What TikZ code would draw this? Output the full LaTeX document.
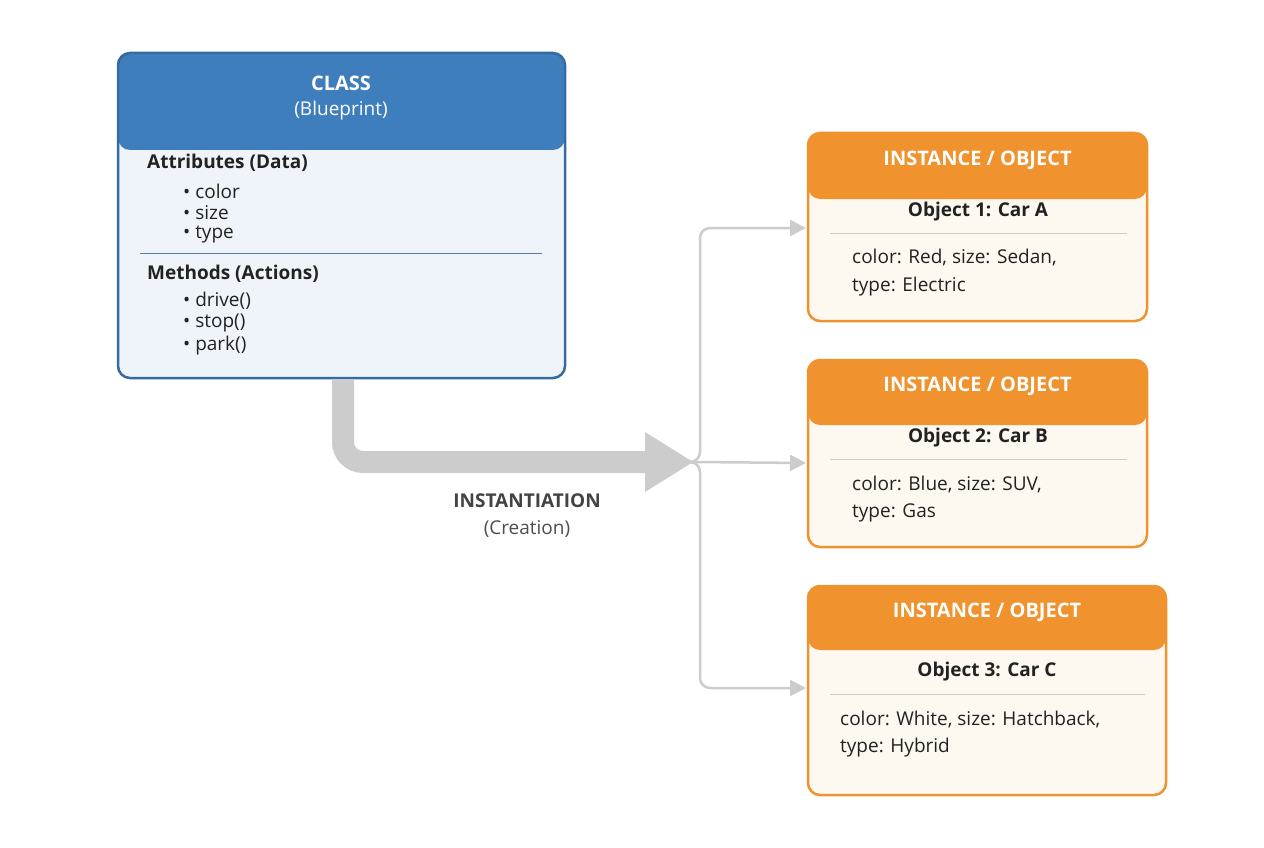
\documentclass[tikz,border=0pt]{standalone}
\usepackage{fontspec}
\setmainfont{Open Sans}
\usetikzlibrary{arrows.meta}
\definecolor{cblue}{HTML}{3F7EBD}
\definecolor{cbody}{HTML}{EEF4FA}
\definecolor{corange}{HTML}{F0922E}
\definecolor{obody}{HTML}{FDF8F0}
\definecolor{cgray}{HTML}{CCCCCC}
\definecolor{ctext}{HTML}{222222}
\tikzset{
 txt/.style={font=\fontsize{19}{22}\selectfont, text=ctext, inner sep=0pt},
 btxt/.style={font=\fontsize{19}{22}\selectfont\bfseries, text=ctext, inner sep=0pt},
 htxt/.style={font=\fontsize{20}{24}\selectfont\bfseries, text=white, inner sep=0pt},
 thin/.style={draw=cgray, line width=2.5pt, rounded corners=10pt},
 tip/.style={-{Triangle[length=16pt,width=16pt]}}
}
\newcommand{\objbox}[8]{% name x1 y1 x2 y2 yh
 \fill[obody,rounded corners=12pt] (#2,#3) rectangle (#4,#5);
 \fill[corange,rounded corners=12pt] (#2,#3) rectangle (#4,#6+12);
 \fill[corange] (#2,#6-12) rectangle (#4,#6);
 \draw[corange,line width=2.5pt,rounded corners=12pt] (#2,#3) rectangle (#4,#5);
 \node[htxt] (#1h) at ({(#2+#4)/2},{(#3+#6)/2}) {INSTANCE / OBJECT};
}
\begin{document}
\begin{tikzpicture}[x=1pt,y=-1pt]
\useasboundingbox (0,0) rectangle (1264,848);
\fill[white] (0,0) rectangle (1264,848);
% class box
\fill[cbody,rounded corners=12pt] (118,53) rectangle (565,378);
\fill[cblue,rounded corners=12pt] (118,53) rectangle (565,150);
\fill[cblue] (118,126) rectangle (565,138);
\draw[cblue!85!black,line width=2.5pt,rounded corners=12pt] (118,53) rectangle (565,378);
\node[htxt] (cls) at (341,83) {CLASS};
\node[txt,text=white] (bp) at (341,111) {(Blueprint)};
\node[btxt,anchor=west] (attr) at (147,163) {Attributes (Data)};
\node[txt,anchor=west] (a1) at (183,191) {• color};
\node[txt,anchor=west] (a2) at (183,213) {• size};
\node[txt,anchor=west] (a3) at (183,235) {• type};
\draw[cblue!70!gray,line width=1pt] (140,253) -- (542,253);
\node[btxt,anchor=west] (meth) at (147,274) {Methods (Actions)};
\node[txt,anchor=west] (m1) at (183,301) {• drive()};
\node[txt,anchor=west] (m2) at (183,323) {• stop()};
\node[txt,anchor=west] (m3) at (183,346) {• park()};
% big arrow
\coordinate (s) at (343,379);
\coordinate (hub) at (693,462);
\draw[cgray,line width=22pt,rounded corners=20pt] (343,379) -- (343,462) -- (650,462);
\fill[cgray] (645,432) -- (693,462) -- (645,492) -- cycle;
\node[btxt,text=ctext!85] (inst) at (527,501) {INSTANTIATION};
\node[txt,text=ctext!80] (cre) at (527,529) {(Creation)};
% objects
\objbox{o1}{808}{133}{1147}{321}{187}{}{}
\node[btxt] (o1t) at (978,212) {Object 1: Car A};
\draw[cgray,line width=1pt] (830,233) -- (1127,233);
\node[txt,anchor=west] (o1a) at (852,258) {color: Red, size: Sedan,};
\node[txt,anchor=west] (o1b) at (852,287) {type: Electric};
\objbox{o2}{808}{360}{1147}{547}{413}{}{}
\node[btxt] (o2t) at (978,438) {Object 2: Car B};
\draw[cgray,line width=1pt] (830,459) -- (1127,459);
\node[txt,anchor=west] (o2a) at (852,485) {color: Blue, size: SUV,};
\node[txt,anchor=west] (o2b) at (852,513) {type: Gas};
\objbox{o3}{808}{586}{1166}{795}{638}{}{}
\node[btxt] (o3t) at (987,672) {Object 3: Car C};
\draw[cgray,line width=1pt] (830,694) -- (1145,694);
\node[txt,anchor=west] (o3a) at (840,720) {color: White, size: Hatchback,};
\node[txt,anchor=west] (o3b) at (840,748) {type: Hybrid};
% thin connectors
\coordinate (e1) at (806,228);
\coordinate (e2) at (806,463);
\coordinate (e3) at (806,688);
\draw[thin,tip] (hub) -- (700,462) -- (700,228) -- (e1);
\draw[thin,tip] (hub) -- (e2);
\draw[thin,tip] (hub) -- (700,462) -- (700,688) -- (e3);
\end{tikzpicture}
\end{document}
